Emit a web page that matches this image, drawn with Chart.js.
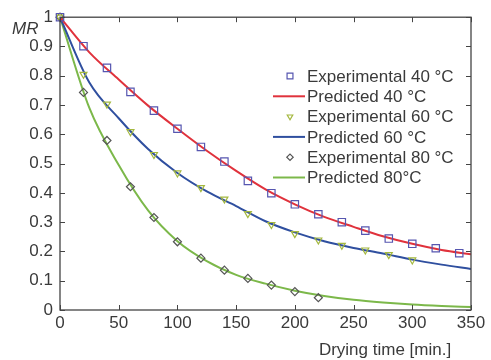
<!DOCTYPE html>
<html><head><meta charset="utf-8">
<script src="https://cdn.jsdelivr.net/npm/chart.js@4/dist/chart.umd.min.js"></script>
<style>html,body{margin:0;padding:0;background:#fff;}#wrap{width:491px;height:360px;position:relative;}</style>
</head><body><div id="wrap"><canvas id="c" width="491" height="360"></canvas></div>
<script>
// ---- data ----
const exp40Time = [0,20,40,60,80,100,120,140,160,180,200,220,240,260,280,300,320,340];
const exp40 = [1, 0.901, 0.827, 0.745, 0.681, 0.619, 0.557, 0.507, 0.441, 0.399, 0.361, 0.327, 0.300, 0.271, 0.244, 0.226, 0.211, 0.194];
const exp60Time = [0,20,40,60,80,100,120,140,160,180,200,220,240,260,280,300];
const exp60 = [1, 0.805, 0.703, 0.609, 0.531, 0.468, 0.418, 0.379, 0.329, 0.292, 0.261, 0.239, 0.221, 0.205, 0.189, 0.171];
const exp80Time = [0,20,40,60,80,100,120,140,160,180,200,220];
const exp80 = [1, 0.743, 0.579, 0.421, 0.316, 0.233, 0.177, 0.136, 0.108, 0.085, 0.063, 0.042];
const predTime = [0,25,50,75,100,125,150,175,200,225,250,275,300,325,350];
const pred40 = [1, 0.880, 0.787, 0.698, 0.619, 0.544, 0.475, 0.412, 0.361, 0.318, 0.284, 0.252, 0.226, 0.205, 0.190];
const pred60 = [1, 0.777, 0.655, 0.550, 0.468, 0.405, 0.355, 0.303, 0.265, 0.235, 0.212, 0.193, 0.172, 0.155, 0.140];
const pred80 = [1, 0.690, 0.495, 0.340, 0.235, 0.167, 0.120, 0.090, 0.066, 0.048, 0.035, 0.026, 0.019, 0.014, 0.010];
const xTickValues = [0,50,100,150,200,250,300,350];
const yTickValues = [0,0.1,0.2,0.3,0.4,0.5,0.6,0.7,0.8,0.9,1];
const legendLabels = ['Experimental 40 \u00B0C','Predicted 40 \u00B0C','Experimental 60 \u00B0C','Predicted 60 \u00B0C','Experimental 80 \u00B0C','Predicted 80\u00B0C'];
const xTitle = 'Drying time [min.]';
const yTitle = 'MR';

const FONT = '"Liberation Sans", Arial, Helvetica, sans-serif';
const TXT = '#3a3a3a';
const C40 = '#e0323c', C60 = '#2f4f9f', C80 = '#7cb84a';
const S40 = '#5656b0', S60 = '#a4b83e', S80 = '#555555';

const pts = (xs, ys) => xs.map((x, i) => ({x, y: ys[i]}));

const expDs = (label, xs, ys, color, style, radius, rot) => ({
  label, data: pts(xs, ys), showLine: false, clip: false,
  pointStyle: style, pointRadius: radius, pointRotation: rot || 0,
  pointBorderColor: color, pointBackgroundColor: 'rgba(0,0,0,0)', pointBorderWidth: 1.2,
  borderColor: color, backgroundColor: 'rgba(0,0,0,0)'
});
const predDs = (label, xs, ys, color) => ({
  label, data: pts(xs, ys), showLine: true, pointRadius: 0,
  borderColor: color, borderWidth: 2, cubicInterpolationMode: 'monotone', fill: false
});

const datasets = [
  expDs(legendLabels[0], exp40Time, exp40, S40, 'rect', 5.2),
  predDs(legendLabels[1], predTime, pred40, C40),
  expDs(legendLabels[2], exp60Time, exp60, S60, 'triangle', 4, 180),
  predDs(legendLabels[3], predTime, pred60, C60),
  expDs(legendLabels[4], exp80Time, exp80, S80, 'rectRot', 4),
  predDs(legendLabels[5], predTime, pred80, C80)
];

const framePlugin = {
  id: 'frame',
  afterDraw(chart) {
    const ctx = chart.ctx, a = chart.chartArea, xs = chart.scales.x, ys = chart.scales.y;
    ctx.save();
    ctx.strokeStyle = '#444'; ctx.lineWidth = 1.3;
    ctx.strokeRect(a.left, a.top, a.right - a.left, a.bottom - a.top);
    ctx.lineWidth = 1;
    const tl = 5;
    ctx.beginPath();
    xs.ticks.forEach(t => {
      const px = Math.round(xs.getPixelForValue(t.value)) + 0.5;
      ctx.moveTo(px, a.bottom); ctx.lineTo(px, a.bottom - tl);
      ctx.moveTo(px, a.top); ctx.lineTo(px, a.top + tl);
    });
    ys.ticks.forEach(t => {
      const py = Math.round(ys.getPixelForValue(t.value)) + 0.5;
      ctx.moveTo(a.left, py); ctx.lineTo(a.left + tl, py);
      ctx.moveTo(a.right, py); ctx.lineTo(a.right - tl, py);
    });
    ctx.stroke();

    // titles
    ctx.fillStyle = TXT;
    ctx.font = '17px ' + FONT;
    ctx.textAlign = 'center'; ctx.textBaseline = 'middle';
    ctx.fillText(xTitle, 385, 350);
    ctx.font = 'italic 17px ' + FONT;
    ctx.textAlign = 'left';
    ctx.fillText(yTitle, 12, 29);

    // legend
    const y0 = 76, step = 20.3, lx0 = 273, lx1 = 305, mx = 290, tx = 307;
    chart.data.datasets.forEach((ds, i) => {
      const y = y0 + i * step;
      if (ds.showLine) {
        ctx.strokeStyle = ds.borderColor; ctx.lineWidth = 2;
        ctx.beginPath(); ctx.moveTo(lx0, y); ctx.lineTo(lx1, y); ctx.stroke();
      } else {
        ctx.strokeStyle = ds.pointBorderColor; ctx.lineWidth = 1.2;
        ctx.fillStyle = 'rgba(0,0,0,0)';
        Chart.helpers.drawPoint(ctx, {pointStyle: ds.pointStyle, rotation: ds.pointRotation, radius: ds.pointRadius * 0.8, borderWidth: 1.2}, mx, y);
      }
      ctx.fillStyle = TXT;
      ctx.font = '17px ' + FONT;
      ctx.textAlign = 'left'; ctx.textBaseline = 'middle';
      ctx.fillText(ds.label, tx, y + 1);
    });
    ctx.restore();
  }
};

new Chart(document.getElementById('c'), {
  type: 'scatter',
  data: { datasets },
  options: {
    responsive: false, animation: false, devicePixelRatio: 1,
    layout: { padding: { top: 12, right: 20, left: 0, bottom: 0 } },
    plugins: { legend: { display: false }, tooltip: { enabled: false } },
    scales: {
      x: {
        type: 'linear', min: 0, max: 350,
        afterFit: s => { s.height = 50; },
        afterBuildTicks: s => { s.ticks = xTickValues.map(v => ({value: v})); },
        grid: { display: false, drawTicks: false },
        border: { display: false },
        ticks: { color: TXT, font: { size: 17, family: FONT }, padding: 3, maxRotation: 0, callback: v => String(v) }
      },
      y: {
        type: 'linear', min: 0, max: 1,
        afterFit: s => { s.width = 60; },
        afterBuildTicks: s => { s.ticks = yTickValues.map(v => ({value: v})); },
        grid: { display: false, drawTicks: false },
        border: { display: false },
        ticks: { color: TXT, font: { size: 17, family: FONT }, padding: 7, callback: v => String(+v.toFixed(1)) }
      }
    }
  },
  plugins: [framePlugin]
});
</script></body></html>
